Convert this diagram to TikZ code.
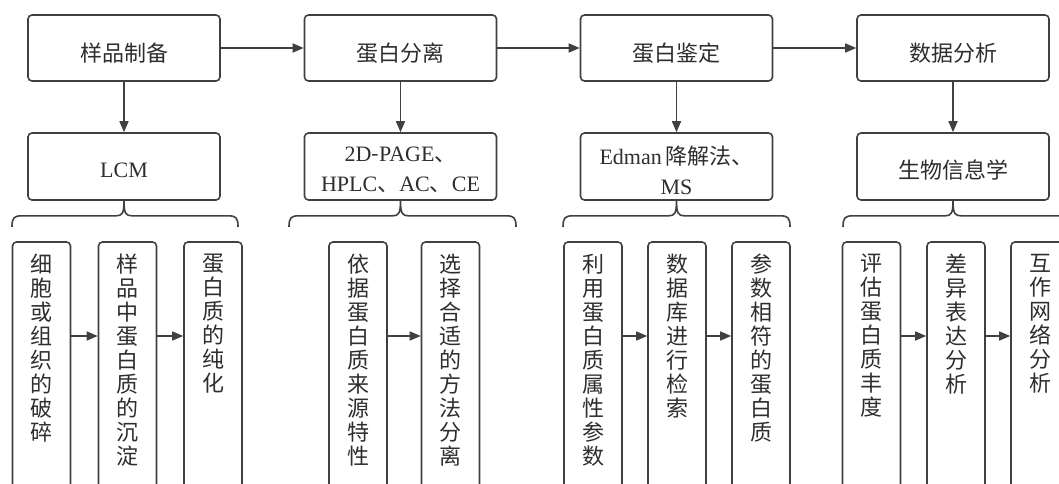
\documentclass[tikz,border=0pt]{standalone}
\usepackage{fontspec}
\setmainfont{Liberation Serif}
\newfontfamily\cjk{Noto Sans CJK SC}
\usetikzlibrary{arrows.meta,calc}
\definecolor{linec}{HTML}{404040}
\definecolor{textc}{HTML}{2E2E2E}
\newcommand\grpbrace[3]{%
  \begin{scope}[shift={(#1.south)}]
    \draw[brace] (#2,26) .. controls (#2,17) and (#2+2,15) .. (#2+10,15) -- (-8,15)
      .. controls (-2,15) and (0,13) .. (0,0)
      .. controls (0,13) and (2,15) .. (8,15) -- (#3-10,15)
      .. controls (#3-2,15) and (#3,17) .. (#3,26);
  \end{scope}}
\newcommand\hcomma{{\cjk 、}}
\begin{document}
\begin{tikzpicture}[x=1pt,y=-1pt,
  box/.style={draw=linec,line width=1.6pt,rounded corners=4pt,minimum width=192pt,minimum height=66pt,inner sep=0pt,fill=white},
  vbox/.style={draw=linec,line width=1.6pt,rounded corners=4pt,minimum width=58pt,minimum height=300pt,inner sep=0pt},
  lbl/.style={text=textc,font=\cjk\fontsize{22}{24}\selectfont,align=center,inner sep=0pt},
  latin/.style={text=textc,font=\rmfamily\fontsize{22}{30}\selectfont,align=center,inner sep=0pt},
  vlbl/.style={lbl,anchor=north},
  arr/.style={draw=linec,line width=1.6pt,-{Triangle[length=11pt,width=9pt]}},
  brace/.style={draw=linec,line width=1.6pt}]
\useasboundingbox (0,0) rectangle (1059,484);
\clip (0,0) rectangle (1059,484);
\fill[white] (0,0) rectangle (1059,484);
% top row
\node[box] (p1) at (124,48) {};
\node[box] (p2) at (400.5,48) {};
\node[box] (p3) at (676.5,48) {};
\node[box] (p4) at (953,48) {};
\node[lbl] (p1t) at (124,53) {样品制备};
\node[lbl] (p2t) at (400.5,53) {蛋白分离};
\node[lbl] (p3t) at (676.5,53) {蛋白鉴定};
\node[lbl] (p4t) at (953,53) {数据分析};
\draw[arr] (p1) -- (p2);
\draw[arr] (p2) -- (p3);
\draw[arr] (p3) -- (p4);
% second row
\node[box,minimum height=67pt] (m1) at (124,166.5) {};
\node[box,minimum height=67pt] (m2) at (400.5,166.5) {};
\node[box,minimum height=67pt] (m3) at (676.5,166.5) {};
\node[box,minimum height=67pt] (m4) at (953,166.5) {};
\node[latin] (m1t) at (124,170) {LCM};
\node[latin] (m2t) at (400.5,170) {2D{\cjk -}PAGE{\cjk 、}\\HPLC\hcomma AC\hcomma CE};
\node[latin] (m3t) at (676.5,170) {Edman\,{\cjk\fontsize{22}{30}\selectfont 降解法、}\\MS};
\node[lbl] (m4t) at (953,170) {生物信息学};
\draw[arr] (p1) -- (m1);
\draw[arr] (p2) -- (m2);
\draw[arr] (p3) -- (m3);
\draw[arr] (p4) -- (m4);
% braces
\grpbrace{m1}{-112}{114}
\grpbrace{m2}{-111.5}{115.5}
\grpbrace{m3}{-113.5}{113.5}
\grpbrace{m4}{-110}{117}
% bottom boxes
\coordinate (arow) at (0,336);
\node[vbox] (a1) at (41.5,392) {};
\node[vbox] (a2) at (127.5,392) {};
\node[vbox] (a3) at (213,392) {};
\node[vbox] (b1) at (358,392) {};
\node[vbox] (b2) at (450.5,392) {};
\node[vbox] (c1) at (593,392) {};
\node[vbox] (c2) at (677,392) {};
\node[vbox] (c3) at (761,392) {};
\node[vbox] (d1) at (871.5,392) {};
\node[vbox] (d2) at (956,392) {};
\node[vbox] (d3) at (1040,392) {};
\node[vlbl] (a1t) at (41.5,254) {细\\胞\\或\\组\\织\\的\\破\\碎};
\node[vlbl] (a2t) at (127.5,254) {样\\品\\中\\蛋\\白\\质\\的\\沉\\淀};
\node[vlbl] (a3t) at (213,254) {蛋\\白\\质\\的\\纯\\化};
\node[vlbl] (b1t) at (358,254) {依\\据\\蛋\\白\\质\\来\\源\\特\\性};
\node[vlbl] (b2t) at (450.5,254) {选\\择\\合\\适\\的\\方\\法\\分\\离};
\node[vlbl] (c1t) at (593,254) {利\\用\\蛋\\白\\质\\属\\性\\参\\数};
\node[vlbl] (c2t) at (677,254) {数\\据\\库\\进\\行\\检\\索};
\node[vlbl] (c3t) at (761,254) {参\\数\\相\\符\\的\\蛋\\白\\质};
\node[vlbl] (d1t) at (871.5,254) {评\\估\\蛋\\白\\质\\丰\\度};
\node[vlbl] (d2t) at (956,254) {差\\异\\表\\达\\分\\析};
\node[vlbl] (d3t) at (1040,254) {互\\作\\网\\络\\分\\析};
\draw[arr] (a1.east |- arow) -- (a2.west |- arow);
\draw[arr] (a2.east |- arow) -- (a3.west |- arow);
\draw[arr] (b1.east |- arow) -- (b2.west |- arow);
\draw[arr] (c1.east |- arow) -- (c2.west |- arow);
\draw[arr] (c2.east |- arow) -- (c3.west |- arow);
\draw[arr] (d1.east |- arow) -- (d2.west |- arow);
\draw[arr] (d2.east |- arow) -- (d3.west |- arow);
\end{tikzpicture}
\end{document}
